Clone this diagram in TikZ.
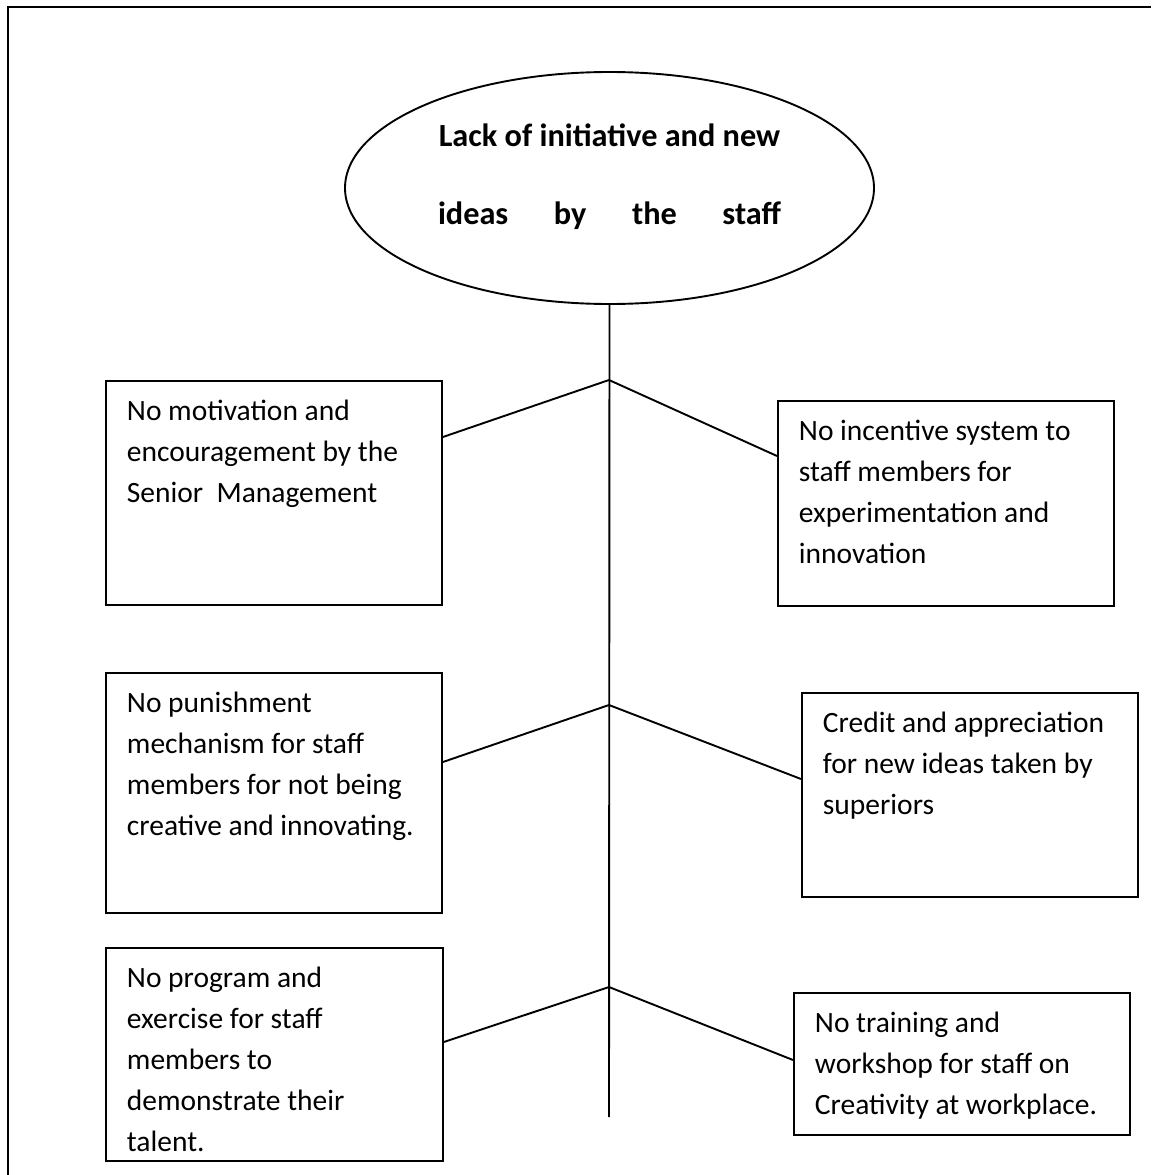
\documentclass[tikz,border=0pt]{standalone}
\usepackage{fontspec}
\setmainfont{Carlito}
\usetikzlibrary{calc,shapes.geometric}

% text block of a cause box: fixed outer size, text set from the top left
\newcommand\cellbody[3]{\parbox[c][#2][t]{#1}{\raggedright\leftskip=21pt\relax
  \vspace*{11pt}\strut #3}}

\begin{document}
\begin{tikzpicture}[x=1pt,y=-1pt,
  frame/.style={line width=2.4pt},
  link/.style={line width=1.9pt},
  cell/.style={draw, line width=1.9pt, inner sep=0pt, anchor=north west,
    font=\fontsize{29.5pt}{41pt}\selectfont},
  hub/.style={draw, ellipse, line width=1.9pt, minimum width=529pt,
    minimum height=232pt, inner sep=0pt},
  heading/.style={anchor=base, inner sep=0pt,
    font=\fontsize{32.3pt}{41pt}\selectfont\bfseries},
]
\useasboundingbox (0,0) rectangle (1151,1175);

% page frame
\draw[frame] (8,1175) -- (8,7) -- (1151,7);

% central problem
\node[hub] (hub) at (609.5,188) {};
\node[heading] (title) at (609.5,146.5) {\parbox[t]{343pt}{\baselineskip=78pt
  \hbox to\hsize{\hss Lack of initiative and new\hss}\par
  \hbox to\hsize{ideas\hfill by\hfill the\hfill staff}}};

% spine and branch points
\coordinate (j1) at (609,380);
\coordinate (j2) at (609,705);
\coordinate (j3) at (609,987);
\coordinate (tail) at (609,1117);
\draw[link] (hub.south) -- (tail);

% causes
\node[cell] (L1) at (105,380) {\cellbody{336pt}{224pt}{No motivation and\\
  encouragement by the\\ Senior\ \ Management}};
\node[cell] (R1) at (777,400) {\cellbody{336pt}{205pt}{No incentive system to\\
  staff members for\\ experimentation and\\ innovation}};
\node[cell] (L2) at (105,672) {\cellbody{336pt}{240pt}{No punishment\\
  mechanism for staff\\ members for not being\\ creative and innovating.}};
\node[cell] (R2) at (801,692) {\cellbody{336pt}{204pt}{Credit and appreciation\\
  for new ideas taken by\\ superiors}};
\node[cell] (L3) at (105,947) {\cellbody{337pt}{213pt}{No program and\\
  exercise for staff\\ members to\\ demonstrate their\\ talent.}};
\node[cell] (R3) at (793,992) {\cellbody{336pt}{142pt}{No training and\\
  workshop for staff on\\ Creativity at workplace.}};

% branches
\draw[link] (j1) -- ($(L1.north east)+(0,57)$);
\draw[link] (j1) -- ($(R1.north west)+(0,56)$);
\draw[link] (j2) -- ($(L2.north east)+(0,90)$);
\draw[link] (j2) -- ($(R2.north west)+(0,87)$);
\draw[link] (j3) -- ($(L3.north east)+(0,95)$);
\draw[link] (j3) -- ($(R3.north west)+(0,68)$);
\end{tikzpicture}
\end{document}
